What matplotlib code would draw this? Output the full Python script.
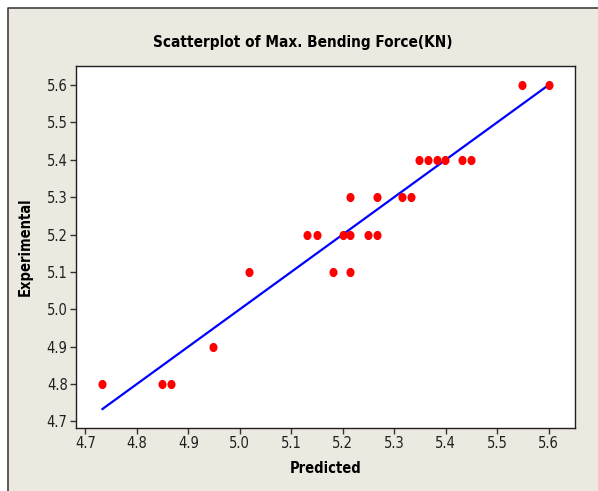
import matplotlib
matplotlib.use("Agg")
import numpy as np
import matplotlib.pyplot as plt
from matplotlib.patches import Rectangle
from matplotlib.lines import Line2D
from matplotlib.path import Path

# Predicted vs experimental max. bending force (KN)
predicted = [4.733, 4.849, 4.866, 4.948, 5.017,
             5.182, 5.214,
             5.131, 5.150, 5.200, 5.214, 5.249, 5.267,
             5.214, 5.267, 5.315, 5.333,
             5.349, 5.365, 5.383, 5.399, 5.432, 5.449,
             5.548, 5.600]
experimental = [4.8, 4.8, 4.8, 4.9, 5.1,
                5.1, 5.1,
                5.2, 5.2, 5.2, 5.2, 5.2, 5.2,
                5.3, 5.3, 5.3, 5.3,
                5.4, 5.4, 5.4, 5.4, 5.4, 5.4,
                5.6, 5.6]
xticks = [4.7, 4.8, 4.9, 5.0, 5.1, 5.2, 5.3, 5.4, 5.5, 5.6]
yticks = [4.7, 4.8, 4.9, 5.0, 5.1, 5.2, 5.3, 5.4, 5.5, 5.6]

W, H = 598, 491
fig = plt.figure(figsize=(W / 100, H / 100), dpi=100, facecolor="#ECE9E0")
fig.patch.set_edgecolor("none")
fig.patch.set_linewidth(0)

# white margin on top and left with a dark edge line
x0, y1 = 7.5 / W, 1 - 7.5 / H
fig.patches.append(Rectangle((0, y1), 1, 1 - y1, transform=fig.transFigure,
                             facecolor="white", edgecolor="none", zorder=-10))
fig.patches.append(Rectangle((0, 0), x0, 1, transform=fig.transFigure,
                             facecolor="white", edgecolor="none", zorder=-10))
fig.lines.append(Line2D([x0, x0, 1], [0, y1, y1], transform=fig.transFigure,
                        color="#404040", linewidth=1.2, zorder=-9))

ax = fig.add_axes([76 / W, (H - 427.7) / H, (575.3 - 76) / W, (427.7 - 66) / H])
ax.set_zorder(5)
ax.set_facecolor("white")

# slightly tall oval dot
t = np.linspace(0, 2 * np.pi, 40)
oval = Path(np.column_stack([0.88 * np.cos(t), np.sin(t)]), closed=True)

# y = x reference line over the range of predicted values
lo, hi = min(predicted), max(predicted)
ax.plot([lo, hi], [lo, hi], color="#0000FF", linewidth=1.6, zorder=2)
ax.plot(predicted, experimental, linestyle="none", marker=oval, color="#FF0000",
        markersize=6.6, markeredgewidth=0, zorder=3)

ax.set_xlim(4.6816, 5.652)
ax.set_ylim(4.683, 5.651)
ax.set_xticks(xticks)
ax.set_yticks(yticks)
ax.set_xticklabels([f"{v:.1f}" for v in xticks])
ax.set_yticklabels([f"{v:.1f}" for v in yticks])

font = dict(family="DejaVu Sans", stretch="condensed")
ax.tick_params(direction="out", length=4, width=1, color="#333333",
               labelsize=10.5, labelcolor="#202020", pad=2)
for lab in ax.get_xticklabels() + ax.get_yticklabels():
    lab.set_fontfamily("DejaVu Sans")
    lab.set_fontstretch("condensed")
for s in ax.spines.values():
    s.set_color("#202020")
    s.set_linewidth(1.0)

ax.set_xlabel("Predicted", fontsize=10.5, fontweight="bold", labelpad=7, **font)
ax.set_ylabel("Experimental", fontsize=10.5, fontweight="bold", labelpad=10, **font)

fig.text(302.5 / W, 1 - 42.7 / H, "Scatterplot of Max. Bending Force(KN)",
         ha="center", va="center", fontsize=11, fontweight="bold", **font)

fig.savefig("out.png", dpi=100, facecolor=fig.get_facecolor())
